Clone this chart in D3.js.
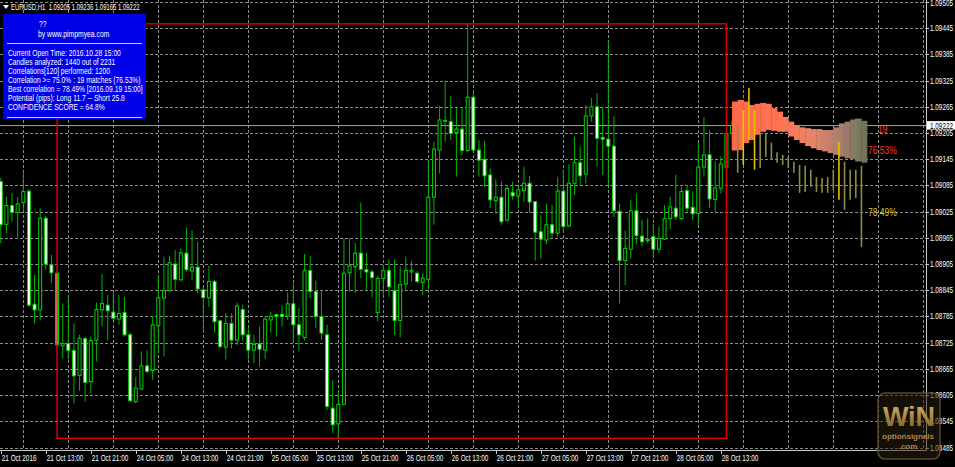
<!DOCTYPE html>
<html><head><meta charset="utf-8">
<script src="https://cdn.jsdelivr.net/npm/d3@7"></script>
<style>html,body{margin:0;padding:0;background:#000;overflow:hidden}svg{display:block}</style>
</head><body>
<svg id="chart" width="955" height="467"></svg>
<script>
// ---------------- DATA ----------------
const symbolTitle = "EURUSD,H1  1.09205 1.09236 1.09165 1.09222";
const opens = [1.09094,1.08996,1.09039,1.09023,1.09046,1.09072,1.08813,1.08800,1.09010,1.08903,
1.08884,1.08718,1.08723,1.08707,1.08650,1.08734,1.08636,1.08731,1.08800,1.08811,
1.08795,1.08779,1.08794,1.08743,1.08590,1.08619,1.08672,1.08661,1.08764,1.08827,
1.08844,1.08905,1.08869,1.08930,1.08889,1.08898,1.08846,1.08828,1.08865,1.08775,
1.08715,1.08769,1.08731,1.08801,1.08743,1.08708,1.08722,1.08708,1.08777,1.08789,
1.08790,1.08786,1.08814,1.08766,1.08737,1.08890,1.08842,1.08785,1.08743,1.08575,
1.08539,1.08584,1.08885,1.08899,1.08930,1.08892,1.08887,1.08794,1.08872,1.08890,
1.08844,1.08776,1.08859,1.08887,1.08884,1.08863,1.08870,1.09058,1.09166,1.09232,
1.09231,1.09206,1.09214,1.09165,1.09287,1.09166,1.09145,1.09109,1.09050,1.09058,
1.09006,1.09069,1.09061,1.09073,1.09090,1.09048,1.08979,1.08960,1.08995,1.08976,
1.09072,1.08992,1.09090,1.09137,1.09111,1.09244,1.09265,1.09195,1.09191,1.09175,
1.09026,1.08913,1.08939,1.09027,1.08969,1.08959,1.08968,1.08939,1.08962,1.09009,
1.09033,1.09009,1.09073,1.09035,1.09021,1.09127,1.09155,1.09053,1.09079,1.09127,
1.09205];
const highs = [1.09102,1.09059,1.09068,1.09059,1.09115,1.09076,1.08880,1.09033,1.09015,1.08926,
1.08887,1.08815,1.08827,1.08769,1.08743,1.08739,1.08739,1.08817,1.08882,1.08834,
1.08838,1.08834,1.08830,1.08748,1.08647,1.08705,1.08708,1.08786,1.08880,1.08922,
1.08924,1.08937,1.08941,1.08989,1.08982,1.08956,1.08850,1.08901,1.08869,1.08777,
1.08792,1.08792,1.08817,1.08811,1.08762,1.08743,1.08762,1.08785,1.08796,1.08791,
1.08811,1.08840,1.08860,1.08804,1.08928,1.08924,1.08867,1.08844,1.08766,1.08640,
1.08613,1.08964,1.08964,1.08953,1.09046,1.08930,1.08892,1.08878,1.08903,1.08916,
1.08916,1.08899,1.08922,1.08911,1.08889,1.08884,1.09143,1.09185,1.09267,1.09325,
1.09290,1.09262,1.09264,1.09455,1.09300,1.09189,1.09187,1.09124,1.09099,1.09094,
1.09086,1.09094,1.09079,1.09128,1.09107,1.09048,1.09017,1.09043,1.09040,1.09105,
1.09121,1.09134,1.09197,1.09174,1.09269,1.09285,1.09297,1.09262,1.09416,1.09244,
1.09044,1.08982,1.09052,1.09067,1.09006,1.09010,1.08997,1.08991,1.09040,1.09059,
1.09109,1.09082,1.09086,1.09071,1.09183,1.09242,1.09212,1.09140,1.09151,1.09205,
1.09236];
const lows = [1.08953,1.08976,1.09002,1.08962,1.09025,1.08807,1.08769,1.08777,1.08892,1.08861,
1.08715,1.08689,1.08686,1.08586,1.08615,1.08590,1.08609,1.08682,1.08762,1.08731,
1.08777,1.08766,1.08739,1.08590,1.08586,1.08617,1.08655,1.08640,1.08701,1.08693,
1.08842,1.08846,1.08865,1.08888,1.08869,1.08838,1.08754,1.08807,1.08748,1.08712,
1.08687,1.08712,1.08720,1.08731,1.08686,1.08678,1.08670,1.08687,1.08748,1.08739,
1.08762,1.08777,1.08727,1.08705,1.08730,1.08827,1.08758,1.08731,1.08571,1.08518,
1.08506,1.08583,1.08842,1.08838,1.08873,1.08846,1.08829,1.08773,1.08832,1.08830,
1.08743,1.08737,1.08846,1.08865,1.08861,1.08834,1.08846,1.08995,1.09113,1.09185,
1.09189,1.09105,1.09155,1.09162,1.09162,1.09105,1.09082,1.09033,1.09021,1.08995,
1.09002,1.09052,1.09033,1.09048,1.09023,1.08913,1.08918,1.08951,1.08964,1.08968,
1.08976,1.08990,1.09063,1.09086,1.09090,1.09231,1.09128,1.09109,1.09086,1.09013,
1.08815,1.08857,1.08918,1.08951,1.08945,1.08953,1.08918,1.08931,1.08960,1.08985,
1.09006,1.09006,1.09021,1.09006,1.08991,1.09105,1.09033,1.09021,1.09067,1.09125,
1.09165];
const closes = [1.08995,1.09039,1.09023,1.09043,1.09071,1.08811,1.08800,1.09010,1.08905,1.08885,
1.08720,1.08723,1.08707,1.08649,1.08735,1.08634,1.08730,1.08801,1.08815,1.08798,
1.08781,1.08792,1.08743,1.08592,1.08621,1.08672,1.08659,1.08766,1.08828,1.08844,
1.08908,1.08870,1.08931,1.08892,1.08898,1.08848,1.08828,1.08865,1.08773,1.08716,
1.08769,1.08731,1.08809,1.08743,1.08708,1.08721,1.08710,1.08779,1.08785,1.08785,
1.08785,1.08814,1.08766,1.08743,1.08890,1.08842,1.08785,1.08747,1.08579,1.08537,
1.08584,1.08884,1.08901,1.08930,1.08893,1.08887,1.08874,1.08872,1.08890,1.08853,
1.08776,1.08858,1.08890,1.08890,1.08865,1.08873,1.09058,1.09168,1.09235,1.09234,
1.09204,1.09214,1.09165,1.09287,1.09166,1.09143,1.09107,1.09052,1.09058,1.09002,
1.09078,1.09061,1.09075,1.09090,1.09047,1.08978,1.08962,1.08995,1.08976,1.09072,
1.08991,1.09090,1.09137,1.09107,1.09244,1.09265,1.09193,1.09191,1.09175,1.09027,
1.08913,1.08941,1.09027,1.08970,1.08956,1.08962,1.08939,1.08964,1.09009,1.09036,
1.09013,1.09071,1.09033,1.09020,1.09127,1.09155,1.09054,1.09079,1.09134,1.09204,
1.09222];
const bid = 1.09222;
const windowStart = 10, windowEnd = 129;   // 120 analysed candles
// projection band (24 future steps starting at the current bar)
const bandHigh = [1.09277,1.09281,1.09277,1.09269,1.09272,1.09274,1.09272,1.09262,1.09254,1.09242,1.09231,1.09223,
1.09218,1.09216,1.09214,1.09214,1.09212,1.09212,1.09218,1.09227,1.09231,1.09236,1.09238,1.09233];
const bandLow = [1.09165,1.09166,1.09182,1.09189,1.09201,1.09208,1.09212,1.09210,1.09208,1.09208,1.09197,1.09189,
1.09182,1.09175,1.09170,1.09166,1.09163,1.09159,1.09155,1.09151,1.09147,1.09145,1.09140,1.09137];
// best match future bars (bars 131..153)
const projHigh = [1.09223,1.09258,1.09308,1.09258,1.09205,1.09205,1.09183,1.09161,1.09155,1.09150,1.09139,1.09132,
1.09130,1.09121,1.09104,1.09102,1.09104,1.09121,1.09185,1.09139,1.09121,1.09121,1.09130];
const projLow = [1.09114,1.09132,1.09189,1.09121,1.09125,1.09150,1.09143,1.09137,1.09132,1.09125,1.09114,1.09068,
1.09070,1.09082,1.09070,1.09068,1.09068,1.09075,1.09052,1.09029,1.09052,1.09056,1.08944];
const projBull = [0,1,1,1,0,0,0,0,0,0,0,0,0,0,0,0,0,0,1,0,0,0,0];
const matchCount = "19", avgCorr = "76.53%", bestCorr = "78.49%";
const countLevel = 1.09212, avgCorrLevel = 1.09166, bestCorrLevel = 1.09022;
const markerBar = 152;
const priceTicks = [1.08485,1.08545,1.08605,1.08665,1.08725,1.08785,1.08845,1.08905,1.08965,
1.09025,1.09085,1.09145,1.09205,1.09265,1.09325,1.09385,1.09445,1.09505];
const timeLabels = ["21 Oct 2016","21 Oct 13:00","21 Oct 21:00","24 Oct 05:00","24 Oct 13:00","24 Oct 21:00",
"25 Oct 05:00","25 Oct 13:00","25 Oct 21:00","26 Oct 05:00","26 Oct 13:00","26 Oct 21:00","27 Oct 05:00",
"27 Oct 13:00","27 Oct 21:00","28 Oct 05:00","28 Oct 13:00"];
const timeLabelBars = [0,8,16,24,32,40,48,56,64,72,80,88,96,104,112,120,128];
const infoLines = ["Current Open Time: 2016.10.28 15:00","Candles analyzed: 1440 out of 2231",
"Correlations[120] performed: 1200","Correlation >= 75.0% : 19 matches (76.53%)",
"Best correlation = 78.49% [2016.09.19 15:00]","Potential (pips): Long 11.7 -- Short 25.8",
"CONFIDENCE SCORE = 64.8%"];

// ---------------- DRAW ----------------
const W = 955, H = 467, plotR = 926, plotB = 450;
const svg = d3.select("#chart");
const defs = svg.append("defs");
svg.append("rect").attr("width", W).attr("height", H).attr("fill", "#000");
const x = d3.scaleLinear().domain([0, 130]).range([0.8, 732.05]);
const y = d3.scaleLinear().domain([1.08485, 1.09505]).range([447.5, 2]);
const FONT = "'Liberation Sans', Arial, sans-serif";
function txt(g, tx, ty, s, size, fill, sx, anchor) {
  return g.append("text").attr("transform", `translate(${tx},${ty}) scale(${sx},1)`)
    .attr("font-family", FONT).attr("font-size", size).attr("fill", fill)
    .attr("text-anchor", anchor || "start").style("white-space", "pre").text(s);
}
defs.append("clipPath").attr("id", "plot").append("rect")
  .attr("x", 0).attr("y", 0).attr("width", plotR).attr("height", plotB);
const plot = svg.append("g").attr("clip-path", "url(#plot)");

// grid
const gridBars = d3.range(4, 170, 8);
plot.append("g").selectAll("line").data(priceTicks).join("line")
  .attr("x1", 0).attr("x2", plotR).attr("y1", d => Math.round(y(d)) + 0.5).attr("y2", d => Math.round(y(d)) + 0.5)
  .attr("stroke", "#8c8c8c").attr("stroke-dasharray", "3,2");
plot.append("g").selectAll("line").data(gridBars).join("line")
  .attr("x1", d => Math.round(x(d)) + 0.5).attr("x2", d => Math.round(x(d)) + 0.5).attr("y1", 0).attr("y2", plotB)
  .attr("stroke", "#8c8c8c").attr("stroke-dasharray", "3,2");

// bid line
plot.append("line").attr("x1", 0).attr("x2", plotR).attr("y1", y(bid)).attr("y2", y(bid))
  .attr("stroke", "#a8a8a8").attr("stroke-width", 1);

// candles
const idx = d3.range(opens.length);
const cg = plot.append("g");
cg.selectAll("line").data(idx).join("line")
  .attr("x1", i => x(i)).attr("x2", i => x(i)).attr("y1", i => y(highs[i])).attr("y2", i => y(lows[i]))
  .attr("stroke", "#00b400").attr("stroke-width", 1);
cg.selectAll("rect").data(idx).join("rect")
  .attr("x", i => x(i) - 1.5).attr("width", 3)
  .attr("y", i => y(Math.max(opens[i], closes[i])))
  .attr("height", i => Math.max(0.6, Math.abs(y(opens[i]) - y(closes[i]))))
  .attr("fill", i => closes[i] >= opens[i] ? "#000" : "#fff")
  .attr("stroke", "#00d200").attr("stroke-width", 1);

// projection band with gradient
const grad = defs.append("linearGradient").attr("id", "bandGrad")
  .attr("gradientUnits", "userSpaceOnUse").attr("x1", x(130)).attr("x2", x(154)).attr("y1", 0).attr("y2", 0);
[[0, "#ff6848"], [0.35, "#ff7454"], [0.6, "#e88468"], [0.78, "#b08070"], [1, "#6c7256"]].forEach(s =>
  grad.append("stop").attr("offset", s[0]).attr("stop-color", s[1]));
plot.append("g").selectAll("rect").data(bandHigh.map((h, j) => j)).join("rect")
  .attr("x", j => x(130 + j)).attr("width", j => x(131 + j) - x(130 + j) + 0.3)
  .attr("y", j => y(bandHigh[j])).attr("height", j => y(bandLow[j]) - y(bandHigh[j]))
  .attr("fill", "url(#bandGrad)");

// best match projection bars
plot.append("g").selectAll("line").data(projHigh.map((h, j) => j)).join("line")
  .attr("x1", j => x(131 + j)).attr("x2", j => x(131 + j))
  .attr("y1", j => y(projHigh[j])).attr("y2", j => y(projLow[j]))
  .attr("stroke", j => projBull[j] ? "#e0c400" : "#8a8a4c").attr("stroke-width", 1.6);

// marker line
plot.append("line").attr("x1", x(markerBar)).attr("x2", x(markerBar))
  .attr("y1", y(bandHigh[22])).attr("y2", y(bandLow[22]))
  .attr("stroke", "#20b0a0").attr("stroke-width", 1).attr("stroke-dasharray", "3,2");

// analysed window rectangle
const wHi = d3.max(highs.slice(windowStart, windowEnd + 1));
const wLo = d3.min(lows.slice(windowStart, windowEnd + 1));
plot.append("rect").attr("x", x(windowStart)).attr("y", y(wHi))
  .attr("width", x(windowEnd) - x(windowStart)).attr("height", y(wLo) - y(wHi))
  .attr("fill", "none").attr("stroke", "#e00000").attr("stroke-width", 1.4);

// right labels
txt(svg, 878, y(countLevel) + 3.5, matchCount, 10, "#ff3a2a", 0.85);
txt(svg, 868, y(avgCorrLevel) + 3.5, avgCorr, 10, "#ff3a2a", 0.85);
txt(svg, 868, y(bestCorrLevel) + 3.5, bestCorr, 10, "#d8cc20", 0.85);

// axes frame
svg.append("line").attr("x1", plotR + 0.5).attr("x2", plotR + 0.5).attr("y1", 0).attr("y2", plotB + 0.5)
  .attr("stroke", "#c8c8c8");
svg.append("line").attr("x1", 0).attr("x2", plotR + 0.5).attr("y1", plotB + 0.5).attr("y2", plotB + 0.5)
  .attr("stroke", "#c8c8c8");
// price axis
const pa = svg.append("g");
priceTicks.forEach(p => {
  pa.append("line").attr("x1", plotR).attr("x2", plotR + 3).attr("y1", Math.round(y(p)) + 0.5).attr("y2", Math.round(y(p)) + 0.5).attr("stroke", "#c8c8c8");
  txt(pa, 930, Math.max(y(p) + 3, 6), p.toFixed(5), 8.5, "#fff", 0.75);
});
pa.append("rect").attr("x", plotR + 1).attr("y", y(bid) - 4.5).attr("width", 28).attr("height", 8.5).attr("fill", "#fff");
txt(pa, 930, y(bid) + 3, bid.toFixed(5), 8.5, "#000", 0.75);
// time axis
const ta = svg.append("g");
timeLabelBars.forEach((b, k) => {
  ta.append("line").attr("x1", Math.round(x(b)) + 0.5).attr("x2", Math.round(x(b)) + 0.5).attr("y1", plotB).attr("y2", plotB + 4).attr("stroke", "#c8c8c8");
  txt(ta, x(b) + 1, 461, timeLabels[k], 8.5, "#fff", 0.75);
});

// header
svg.append("path").attr("d", "M3,5 L9,5 L6,9 Z").attr("fill", "#fff");
txt(svg, 11, 10, symbolTitle, 8.5, "#fff", 0.7);

// info box
const ib = svg.append("g");
ib.append("rect").attr("x", 3).attr("y", 14).attr("width", 143).attr("height", 105).attr("fill", "#0000e6");
txt(ib, 39, 27, "??", 8.5, "#fff", 0.8);
txt(ib, 38, 37, "by www.pimpmyea.com", 8.5, "#fff", 0.8);
ib.append("line").attr("x1", 7).attr("x2", 142).attr("y1", 43.5).attr("y2", 43.5).attr("stroke", "#c8c8ff");
infoLines.forEach((s, k) => txt(ib, 8, 56 + k * 9, s, 8.5, "#fff", 0.79));
ib.append("line").attr("x1", 7).attr("x2", 142).attr("y1", 117.5).attr("y2", 117.5).attr("stroke", "#c8c8ff");

// watermark logo
const lg = svg.append("g");
const lgd = defs.append("linearGradient").attr("id", "gold").attr("x1", 0).attr("x2", 0).attr("y1", 0).attr("y2", 1);
lgd.append("stop").attr("offset", 0).attr("stop-color", "#d8b468");
lgd.append("stop").attr("offset", 1).attr("stop-color", "#7a5a22");
lg.append("rect").attr("x", 878).attr("y", 393).attr("width", 62).attr("height", 66).attr("rx", 7)
  .attr("fill", "rgba(40,30,14,0.5)").attr("stroke", "rgba(110,88,46,0.8)").attr("stroke-width", 1.5);
lg.append("text").attr("x", 909).attr("y", 426).attr("text-anchor", "middle").attr("font-family", FONT)
  .attr("font-weight", "bold").attr("font-size", 27).attr("fill", "url(#gold)").text("WiN");
lg.append("text").attr("x", 908).attr("y", 439).attr("text-anchor", "middle").attr("font-family", FONT)
  .attr("font-weight", "bold").attr("font-size", 8).attr("fill", "#a8884a").text("optionsignals");
lg.append("text").attr("x", 908).attr("y", 449).attr("text-anchor", "middle").attr("font-family", FONT)
  .attr("font-weight", "bold").attr("font-size", 8).attr("fill", "#a8884a").text(".com");
</script>
</body></html>
